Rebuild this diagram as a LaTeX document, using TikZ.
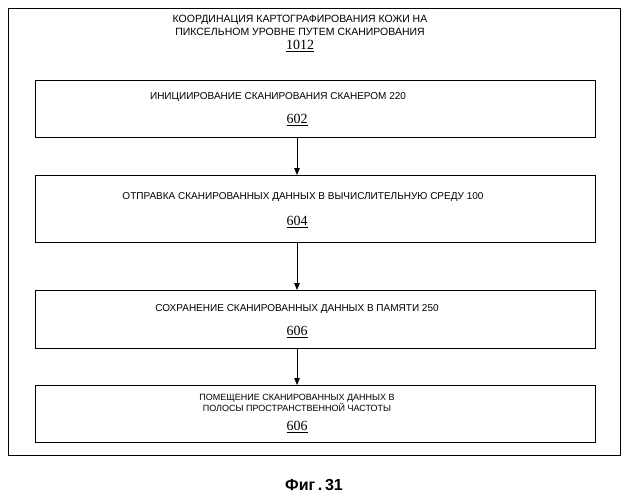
\documentclass[tikz,border=0pt]{standalone}
\usepackage{fontspec}
\setmainfont{Liberation Sans}
\newfontfamily\numfont{Liberation Serif}
\usetikzlibrary{arrows.meta}
\begin{document}
\begin{tikzpicture}[x=1pt,y=-1pt,
  stepbox/.style={draw,line width=1.1pt,minimum width=560pt,anchor=north west,inner sep=0pt},
  lbl/.style={font=\fontsize{10}{11.5}\selectfont,align=center},
  num/.style={font=\numfont\fontsize{14}{15}\selectfont},
  arr/.style={-{Triangle[length=7pt,width=5.5pt]},line width=0.9pt}]
\useasboundingbox (0,0) rectangle (628,500);
\node[draw,line width=1.1pt,minimum width=612pt,minimum height=447pt,anchor=north west,inner sep=0pt] (outer) at (8,8) {};
\node[lbl,font=\fontsize{10.5}{13}\selectfont] (t) at (300,25) {КООРДИНАЦИЯ КАРТОГРАФИРОВАНИЯ КОЖИ НА\\ПИКСЕЛЬНОМ УРОВНЕ ПУТЕМ СКАНИРОВАНИЯ};
\node[num] (tn) at (300,46) {\underline{1012}};
\node[stepbox,minimum height=57pt] (b1) at (35,80) {};
\node[stepbox,minimum height=67pt] (b2) at (35,175) {};
\node[stepbox,minimum height=58pt] (b3) at (35,290) {};
\node[stepbox,minimum height=57pt] (b4) at (35,385) {};
\node[lbl] (l1) at (278,97) {ИНИЦИИРОВАНИЕ СКАНИРОВАНИЯ СКАНЕРОМ 220};
\node[num] (n1) at (297,120) {\underline{602}};
\node[lbl] (l2) at (303,197) {ОТПРАВКА СКАНИРОВАННЫХ ДАННЫХ В ВЫЧИСЛИТЕЛЬНУЮ СРЕДУ 100};
\node[num] (n2) at (297,222) {\underline{604}};
\node[lbl] (l3) at (297,309) {СОХРАНЕНИЕ СКАНИРОВАННЫХ ДАННЫХ В ПАМЯТИ 250};
\node[num] (n3) at (297,332) {\underline{606}};
\node[lbl,font=\fontsize{9}{10.5}\selectfont] (l4) at (297,403) {ПОМЕЩЕНИЕ СКАНИРОВАННЫХ ДАННЫХ В\\ПОЛОСЫ ПРОСТРАНСТВЕННОЙ ЧАСТОТЫ};
\node[num] (n4) at (297,427) {\underline{606}};
\draw[arr] (b1.south -| n1) -- (b2.north -| n1);
\draw[arr] (b2.south -| n1) -- (b3.north -| n1);
\draw[arr] (b3.south -| n1) -- (b4.north -| n1);
\node[font=\bfseries\fontsize{16}{17}\selectfont] (fig) at (314,485) {Фиг\,.\,31};
\end{tikzpicture}
\end{document}
